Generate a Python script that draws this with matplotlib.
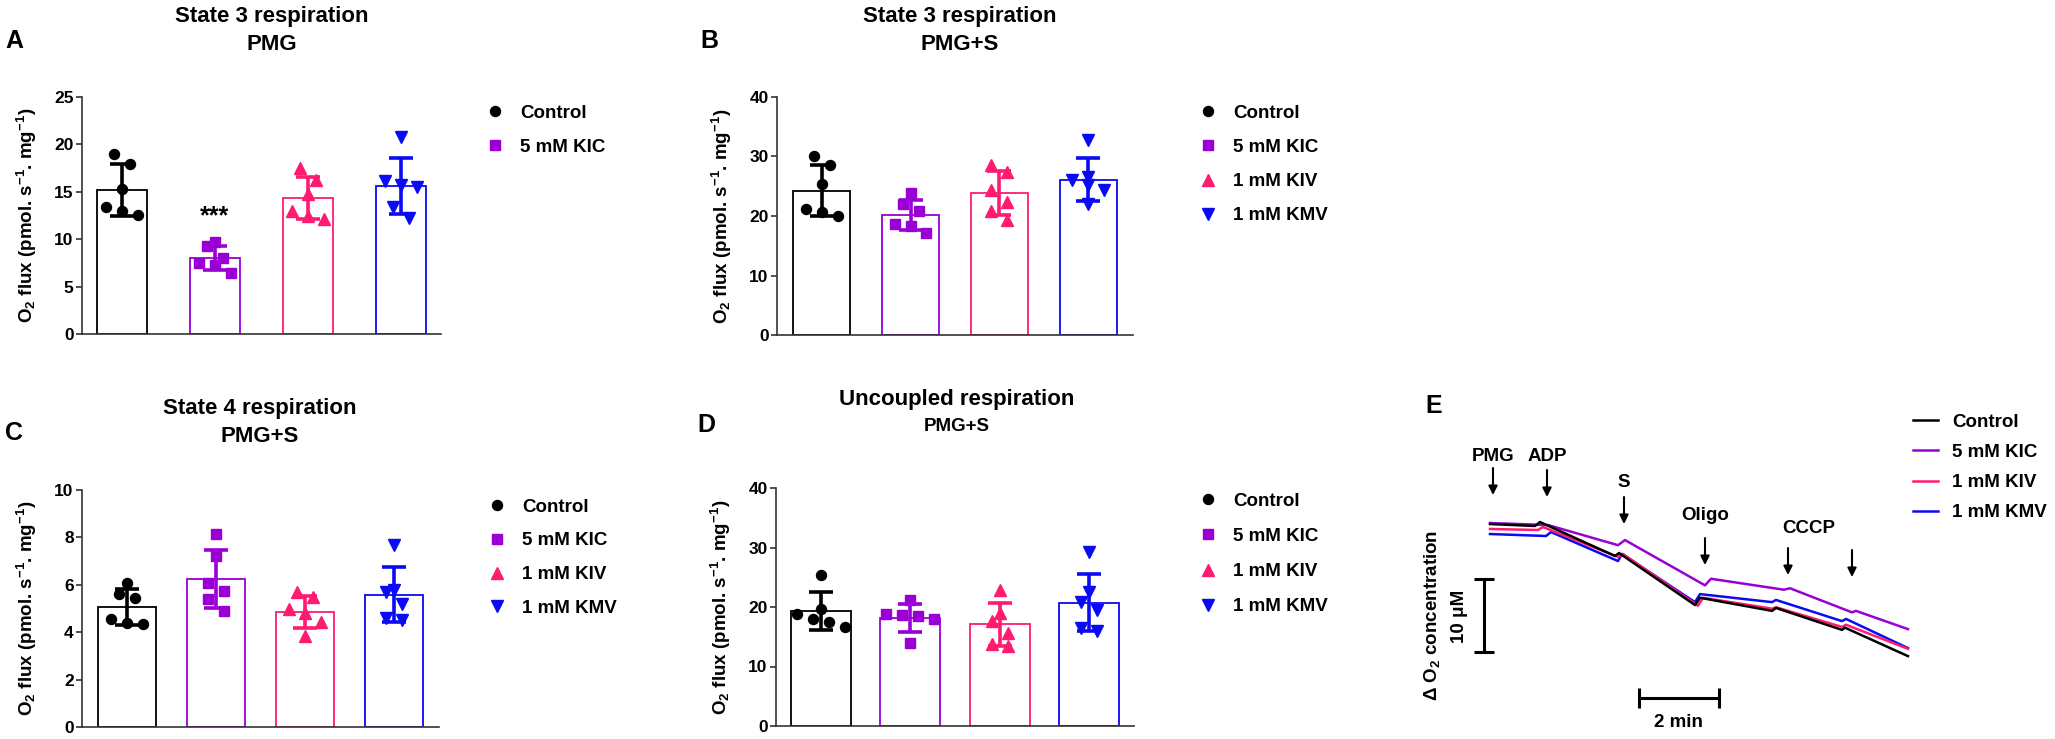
import numpy as np
import matplotlib
matplotlib.use('Agg')
import matplotlib.pyplot as plt
from matplotlib.lines import Line2D

plt.rcParams['font.family'] = ['Liberation Sans', 'DejaVu Sans']
plt.rcParams['font.weight'] = 'bold'
plt.rcParams['mathtext.fontset'] = 'custom'
plt.rcParams['mathtext.rm'] = 'Liberation Sans:bold'
plt.rcParams['mathtext.it'] = 'Liberation Sans:bold'
plt.rcParams['mathtext.bf'] = 'Liberation Sans:bold'

W, H = 2055, 739

groups = ['Control', '5 mM KIC', '1 mM KIV', '1 mM KMV']
colors = ['#000000', '#9A00D6', '#FF1A72', '#0A0AF5']
markers = ['o', 's', '^', 'v']
msizes = [7.2, 6.8, 8, 8]

# O2 flux values (pmol s-1 mg-1), one list per group
a_ctrl = [19.0, 17.9, 15.3, 13.4, 13.0, 12.5]
a_kic = [9.7, 9.3, 8.0, 7.5, 7.25, 6.4]
a_kiv = [17.5, 16.2, 14.8, 13.0, 12.4, 12.1]
a_kmv = [20.8, 16.1, 15.7, 15.5, 13.4, 12.2]

b_ctrl = [30.0, 28.5, 25.3, 21.2, 20.6, 20.0]
b_kic = [23.8, 22.1, 20.9, 18.6, 18.3, 17.1]
b_kiv = [28.6, 27.4, 24.4, 22.4, 20.9, 19.3]
b_kmv = [32.8, 26.5, 26.0, 25.2, 24.3, 22.0]

c_ctrl = [6.08, 5.63, 5.45, 4.54, 4.37, 4.33]
c_kic = [8.14, 7.21, 6.08, 5.75, 5.38, 4.90]
c_kiv = [5.70, 5.47, 4.96, 4.79, 4.44, 3.83]
c_kmv = [7.70, 5.80, 5.70, 5.20, 4.60, 4.50]

d_ctrl = [25.4, 19.6, 18.8, 17.9, 17.5, 16.7]
d_kic = [21.2, 18.9, 18.7, 18.5, 18.0, 14.0]
d_kiv = [22.9, 19.0, 17.7, 15.7, 13.8, 13.4]
d_kmv = [29.2, 22.5, 20.8, 19.5, 16.5, 16.0]

# oxygraph traces: time (min) and change in O2 (uM)
tr_ctrl_t = [0, 1.125, 1.25, 3.125, 3.225, 5.125, 5.25, 7.05, 7.15, 8.8, 8.875, 10.45]
tr_ctrl_c = [0, -0.27, 0.27, -4.38, -3.97, -11.1, -10.1, -11.9, -11.5, -14.5, -14.2, -18.1]
tr_kic_t = [0, 1.45, 3.2, 3.375, 5.375, 5.525, 7.35, 7.5, 9.05, 9.15, 10.45]
tr_kic_c = [0.14, -0.14, -2.9, -2.2, -8.4, -7.5, -9.0, -8.8, -12.1, -11.9, -14.4]
tr_kiv_t = [0, 1.2, 1.325, 3.2, 3.325, 5.2, 5.325, 7.05, 7.15, 8.8, 8.9, 10.45]
tr_kiv_c = [-0.68, -0.82, -0.41, -4.5, -4.1, -11.2, -10.1, -11.6, -11.4, -14.1, -13.8, -17.1]
tr_kmv_t = [0, 1.4, 1.525, 3.2, 3.3, 5.125, 5.25, 7.05, 7.15, 8.8, 8.9, 10.45]
tr_kmv_c = [-1.37, -1.64, -1.1, -5.07, -4.1, -10.7, -9.6, -10.7, -10.4, -13.3, -13.0, -17.0]

# additions during the run
events = ['PMG', 'ADP', 'S', 'Oligo', 'CCCP', '']
event_t = [0.075, 1.425, 3.35, 5.375, 7.45, 9.05]

fig = plt.figure(figsize=(W / 100, H / 100), dpi=100)


def px_axes(l, t, r, b):
    return fig.add_axes([l / W, 1 - b / H, (r - l) / W, (b - t) / H])


def fx(x):
    return x / W


def fy(y):
    return 1 - y / H


def swarm_offsets(vals, px_x, px_y, spacing=16, thresh=13):
    # put close values in a row and spread the row sideways
    vals = np.asarray(vals)
    offs = np.zeros(len(vals))

    def flush(g):
        g = sorted(g, key=lambda i: -vals[i])
        n = len(g)
        for k, i in enumerate(g):
            offs[i] = (k - (n - 1) / 2) * spacing / px_x

    group = []
    for i in np.argsort(vals):
        if group and (vals[i] - vals[group[0]]) * px_y > thresh:
            flush(group)
            group = []
        group.append(i)
    flush(group)
    return offs


def bar_panel(ax, data, ymax, ystep, xlim, width):
    ax.set_xlim(*xlim)
    ax.set_ylim(0, ymax)
    pos = ax.get_position()
    px_x = pos.width * W / (xlim[1] - xlim[0])
    px_y = pos.height * H / ymax
    for i, vals in enumerate(data):
        m = np.mean(vals)
        sd = np.std(vals, ddof=1)
        ax.bar(i, m, width, facecolor='white', edgecolor=colors[i], lw=1.3, zorder=1)
        offs = swarm_offsets(vals, px_x, px_y)
        ax.plot(i + offs, vals, ls='none', marker=markers[i], ms=msizes[i],
                color=colors[i], mec=colors[i], zorder=3, clip_on=False)
        ax.errorbar(i, m, yerr=sd, color=colors[i], elinewidth=2.6, capsize=8.5,
                    capthick=2.6, zorder=4)
    ticks = np.arange(0, ymax + 0.01, ystep)
    ax.set_yticks(ticks, labels=[f'{v:g}' for v in ticks], fontweight='bold', fontsize=12.5)
    ax.set_xticks([])
    for s in ['top', 'right']:
        ax.spines[s].set_visible(False)
    for s in ['left', 'bottom']:
        ax.spines[s].set_color('#333333')
        ax.spines[s].set_linewidth(1.2)
    ax.tick_params(axis='y', length=4, width=1.2, color='#333333', pad=2)
    ax.set_ylabel(r'O$_2$ flux (pmol. s$^{-1}$. mg$^{-1}$)', fontsize=13.5, fontweight='bold')
    ax.yaxis.set_label_coords(-0.12, 0.5)


def marker_legend(n, mx, y0, dy):
    fs = 13.5
    fpx = fs * 100 / 72
    handles = [Line2D([], [], ls='none', marker=markers[i], ms=msizes[i],
                      color=colors[i]) for i in range(n)]
    fig.legend(handles, groups[:n], loc='upper left', frameon=False,
               bbox_to_anchor=(fx(mx - 0.5 * fpx), fy(y0 - 0.45 * fpx)),
               borderpad=0, borderaxespad=0, handlelength=1.0, handletextpad=0.85,
               labelspacing=(dy - 0.9 * fpx) / fpx, prop={'size': fs, 'weight': 'bold'})


def titles(x, y1, y2, line1, line2, fs2=16):
    fig.text(fx(x), fy(y1), line1, ha='center', va='baseline', fontsize=16, fontweight='bold')
    fig.text(fx(x), fy(y2), line2, ha='center', va='baseline', fontsize=fs2, fontweight='bold')


# A
ax_a = px_axes(82, 97, 441, 334)
bar_panel(ax_a, [a_ctrl, a_kic, a_kiv, a_kmv], 25, 5, (-0.43, 3.43), 0.54)
ax_a.text(1, 12.4, '***', ha='center', va='center', fontsize=18, fontweight='bold')
marker_legend(2, 495, 113, 34)
titles(272, 22, 50, 'State 3 respiration', 'PMG')
fig.text(fx(5), fy(48), 'A', fontsize=18, va='baseline', fontweight='bold')

# B
ax_b = px_axes(777, 97, 1133, 335)
bar_panel(ax_b, [b_ctrl, b_kic, b_kiv, b_kmv], 40, 10, (-0.5, 3.5), 0.65)
marker_legend(4, 1208, 113, 34)
titles(960, 22, 50, 'State 3 respiration', 'PMG+S')
fig.text(fx(700), fy(48), 'B', fontsize=18, va='baseline', fontweight='bold')

# C
ax_c = px_axes(82, 490, 439, 727)
bar_panel(ax_c, [c_ctrl, c_kic, c_kiv, c_kmv], 10, 2, (-0.5, 3.5), 0.65)
marker_legend(4, 497, 507, 33.5)
titles(260, 414, 442, 'State 4 respiration', 'PMG+S')
fig.text(fx(5), fy(440), 'C', fontsize=18, va='baseline', fontweight='bold')

# D
ax_d = px_axes(776, 488, 1134, 726)
bar_panel(ax_d, [d_ctrl, d_kic, d_kiv, d_kmv], 40, 10, (-0.5, 3.5), 0.67)
marker_legend(4, 1208, 501, 35)
titles(957, 405, 431, 'Uncoupled respiration', 'PMG+S', fs2=13.5)
fig.text(fx(697), fy(432), 'D', fontsize=18, va='baseline', fontweight='bold')

# E
ax_e = px_axes(1400, 380, 1940, 739)
ax_e.set_xlim(-2.25, 11.25)
ax_e.set_ylim(-29.45, 19.73)
ax_e.axis('off')
traces = [(tr_ctrl_t, tr_ctrl_c), (tr_kic_t, tr_kic_c), (tr_kiv_t, tr_kiv_c), (tr_kmv_t, tr_kmv_c)]
zorders = [5, 2, 4, 3]
for i, (t, c) in enumerate(traces):
    ax_e.plot(t, c, color=colors[i], lw=1.8, zorder=zorders[i], label=groups[i])

arrow_top = [7.67, 7.4, 3.7, -1.92, -3.29, -3.56]
label_y = [8.63, 8.63, 5.07, 0.55, -1.23, 0]
label_dx = [0, 0, 0, 0, 0.52, 0]
for name, t, top, ly, dx in zip(events, event_t, arrow_top, label_y, label_dx):
    ax_e.annotate('', xy=(t, top - 3.7), xytext=(t, top),
                  arrowprops=dict(arrowstyle='-|>', color='black', lw=1.5,
                                  mutation_scale=13, shrinkA=0, shrinkB=0))
    if name:
        ax_e.text(t + dx, ly, name, ha='center', va='baseline', fontsize=13.5, fontweight='bold')

# scale bars: 10 uM and 2 min
ax_e.plot([-0.15, -0.15], [-7.53, -17.53], color='black', lw=2.2, solid_capstyle='butt')
for cy in [-7.53, -17.53]:
    ax_e.plot([-0.4, 0.1], [cy, cy], color='black', lw=2.2, solid_capstyle='butt')
ax_e.plot([3.725, 5.725], [-23.84, -23.84], color='black', lw=2.2, solid_capstyle='butt')
for tx in [3.725, 5.725]:
    ax_e.plot([tx, tx], [-22.5, -25.2], color='black', lw=2.2, solid_capstyle='butt')
ax_e.text(-0.75, -12.6, '10 \u03bcM', rotation=90, ha='center', va='center',
          fontsize=13.5, fontweight='bold')
ax_e.text(-1.45, -12.5, '\u0394 O$_2$ concentration', rotation=90, ha='center',
          va='center', fontsize=13.5, fontweight='bold')
ax_e.text(4.7, -27.8, '2 min', ha='center', va='baseline', fontsize=13.5, fontweight='bold')
fig.text(fx(1425), fy(413), 'E', fontsize=18, va='baseline', fontweight='bold')

fpx = 13.5 * 100 / 72
fig.legend(*ax_e.get_legend_handles_labels(), loc='upper left', frameon=False,
           bbox_to_anchor=(fx(1913), fy(422 - 0.45 * fpx)), borderpad=0, borderaxespad=0,
           handlelength=1.35, handletextpad=0.75, labelspacing=(30 - 0.9 * fpx) / fpx,
           prop={'size': 13.5, 'weight': 'bold'})

fig.savefig('out.png', dpi=100)
